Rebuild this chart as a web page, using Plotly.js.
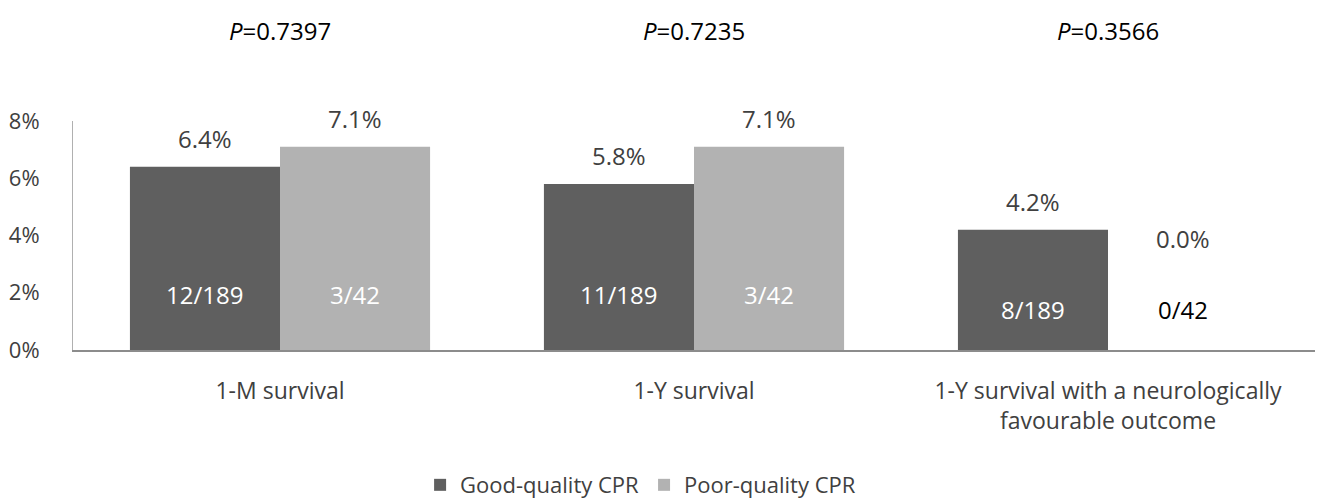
<!DOCTYPE html>
<html>
<head>
<meta charset="utf-8">
<script src="https://cdn.plot.ly/plotly-3.0.1.min.js"></script>
<style>html,body{margin:0;padding:0;background:#fff;}#chart{width:1317px;height:499px;}</style>
</head>
<body>
<div id="chart"></div>
<script>
const categories = ["1-M survival", "1-Y survival", "1-Y survival with a neurologically<br>favourable outcome"];
const seriesNames = ["Good-quality CPR", "Poor-quality CPR"];
const goodValues = [6.4, 5.8, 4.2];
const poorValues = [7.1, 7.1, 0.0];
const goodCounts = ["12/189", "11/189", "8/189"];
const poorCounts = ["3/42", "3/42", "0/42"];
const pValues = ["0.7397", "0.7235", "0.3566"];
const yTickVals = [0, 2, 4, 6, 8];
const yTickText = ["0%", "2%", "4%", "6%", "8%"];

const FONT = "Open Sans, Noto Sans, sans-serif";
const TXT = "#404040";
const bargap = 0.275;
const half = (1 - bargap) / 4; // offset of each bar centre from the group centre

const traces = [
  {type: "bar", name: seriesNames[0], x: categories, y: goodValues,
   marker: {color: "#5f5f5f"}, hoverinfo: "skip"},
  {type: "bar", name: seriesNames[1], x: categories, y: poorValues,
   marker: {color: "#b2b2b2"}, hoverinfo: "skip"}
];

const ann = [];
categories.forEach((c, i) => {
  // value labels above bars
  ann.push({x: i - half, y: goodValues[i], yref: "y", xref: "x", yanchor: "bottom", yshift: 10,
    text: goodValues[i].toFixed(1) + "%", showarrow: false, font: {family: FONT, size: 24, color: TXT}});
  const zero = poorValues[i] === 0;
  ann.push({x: i + half, y: zero ? 3.9 : poorValues[i], yref: "y", xref: "x",
    yanchor: zero ? "middle" : "bottom", yshift: zero ? 0 : 10,
    text: poorValues[i].toFixed(1) + "%", showarrow: false, font: {family: FONT, size: 24, color: TXT}});
  // count labels inside bars
  const cy = i === 2 ? 1.4 : 1.93;
  ann.push({x: i - half, y: cy, xref: "x", yref: "y", text: goodCounts[i], showarrow: false,
    font: {family: FONT, size: 24, color: "#ffffff"}});
  ann.push({x: i + half, y: cy, xref: "x", yref: "y", text: poorCounts[i], showarrow: false,
    font: {family: FONT, size: 24, color: zero ? "#000000" : "#ffffff"}});
  // P-values on top
  ann.push({x: i, y: 1.397, xref: "x", yref: "paper", yanchor: "middle",
    text: "<i>P</i>=" + pValues[i], showarrow: false, font: {family: FONT, size: 24, color: "#000000"}});
});

const layout = {
  width: 1317, height: 499,
  margin: {l: 73, r: 2, t: 121, b: 149, autoexpand: false},
  paper_bgcolor: "#ffffff", plot_bgcolor: "#ffffff",
  barmode: "group", bargap: bargap, bargroupgap: 0,
  font: {family: FONT, size: 22, color: TXT},
  showlegend: true,
  legend: {orientation: "h", x: 0.457, xanchor: "center", yref: "container", y: 0.028, yanchor: "middle",
    font: {family: FONT, size: 22, color: TXT}, itemwidth: 30, tracegroupgap: 0},
  xaxis: {type: "category", showgrid: false, zeroline: false, showline: true,
    linecolor: "#8c8c8c", linewidth: 2, ticks: "", tickfont: {family: FONT, size: 23, color: TXT},
    ticklabelstandoff: 19, range: [-0.5, 2.5]},
  yaxis: {range: [0, 8], tickvals: yTickVals, ticktext: yTickText, showgrid: false, zeroline: false,
    showline: true, linecolor: "#b0b0b0", linewidth: 1, ticks: "", ticklabelstandoff: 28,
    tickfont: {family: FONT, size: 22, color: TXT}},
  annotations: ann
};

Plotly.newPlot("chart", traces, layout, {displayModeBar: false, staticPlot: true});
</script>
</body>
</html>
